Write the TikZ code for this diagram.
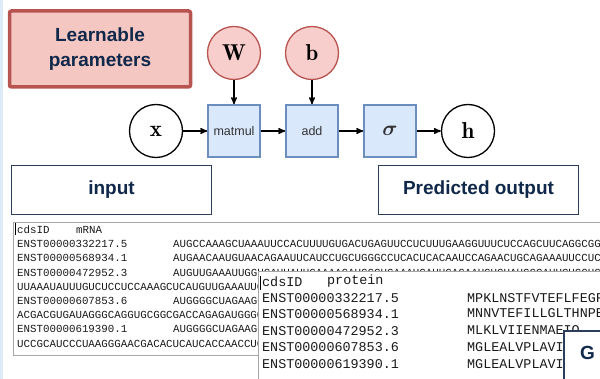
\RequirePackage{fix-cm}
\documentclass[tikz,border=0pt]{standalone}
\usepackage{amsmath}
\usepackage{fontspec}
\usepackage{tikz}
\usetikzlibrary{arrows}
\newfontfamily\lblfont{Liberation Sans}
\newfontfamily\codefont{Liberation Mono}
\definecolor{navy}{HTML}{10284A}
\definecolor{boxline}{HTML}{2B3F5C}
\definecolor{parfill}{HTML}{F8CECC}
\definecolor{parline}{HTML}{B85450}
\definecolor{learnfill}{HTML}{F4C7C3}
\definecolor{opfill}{HTML}{DAE8FC}
\definecolor{opline}{HTML}{6C8EBF}
\definecolor{tblline}{HTML}{A6A6A6}
\definecolor{stripe}{HTML}{DDEBF7}
\definecolor{codetext}{HTML}{1A1A1A}

\begin{document}
\begin{tikzpicture}[->,>=stealth',x=1pt,y=-1pt,node distance=78pt,
        every edge/.style={draw,line width=1.4},
        var/.style={circle,draw,line width=1.3,fill=white,minimum size=53,inner sep=0,
            font=\fontsize{23}{23}\selectfont},
        param/.style={var,draw=parline,fill=parfill},
        op/.style={rectangle,draw=opline,fill=opfill,line width=1.6,minimum size=52,inner sep=0,
            font=\lblfont\fontsize{12.5}{13}\selectfont,text=black!80},
        titlebox/.style={rectangle,draw=boxline,line width=1.6,fill=white,
            font=\lblfont\bfseries\fontsize{19}{25}\selectfont,text=navy},
        learnbox/.style={titlebox,draw=parline,fill=learnfill,line width=3.5,
            rounded corners=2,align=center},
        tbl/.style={rectangle,draw=tblline,line width=0.8,fill=white,anchor=north west},
        rna/.style={anchor=west,inner sep=0,text=codetext,
            font=\codefont\fontsize{10.8}{11}\selectfont},
        prt/.style={rna,font=\codefont\fontsize{13.4}{14}\selectfont}]

    \useasboundingbox (0,0) rectangle (600,379);
    \clip (0,0) rectangle (600,379);
    \fill[stripe] (0,0) rectangle (3,379);

    % computation graph
    \node[var] (x) at (156,131) {$\mathbf{x}$};
    \node[op] (mm) [right of=x] {matmul};
    \node[op,font=\fontsize{21}{21}\selectfont] (sig) at (390,131) {$\boldsymbol{\sigma}$};
    \node[op] (add) [right of=mm] {add};
    \node[var] (h) [right of=sig] {$\mathbf{h}$};
    \node[param] (W) [above of=mm] {$\mathbf{W}$};
    \node[param] (b) [above of=add] {$\mathbf{b}$};

    \path (x) edge (mm)
        (mm) edge (add)
        (add) edge (sig)
        (sig) edge (h)
        (W) edge (mm)
        (b) edge (add);

    \node[learnbox,minimum width=181,minimum height=76] (learn) at (100,49) {Learnable\\parameters};
    \node[titlebox,minimum width=200,minimum height=49] (in) at (111.5,190) {input};
    \node[titlebox,minimum width=200,minimum height=49] (out) at (478.5,190) {Predicted output};

    % mRNA table
    \node[tbl,minimum width=620,minimum height=133] (rna) at (13,222) {};
    \draw[-,line width=0.6] (15.5,223.5) -- (15.5,235);
    \node[rna] (r0) at (17,229.5) {cdsID};
    \node[rna] (r0s) at (76,229.5) {mRNA};
    \node[rna] (r1) at (17,244) {ENST00000332217.5};
    \node[rna] (r1s) at (173,244) {AUGCCAAAGCUAAAUUCCACUUUUGUGACUGAGUUCCUCUUUGAAGGUUUCUCCAGCUUCAGGCGGCAAG};
    \node[rna] (r2) at (17,258) {ENST00000568934.1};
    \node[rna] (r2s) at (173,258) {AUGAACAAUGUAACAGAAUUCAUCCUGCUGGGCCUCACUCACAAUCCAGAACUGCAGAAAUUCCUCCUGU};
    \node[rna] (r3) at (17,272.5) {ENST00000472952.3};
    \node[rna] (r3s) at (173,272.5) {AUGUUGAAAUUGGUGAUUAUUGAAAACAUGGCUGAAAUCAUUGAGAAUGUCUAUGGCAUUCUGCUGG};
    \node[rna] (r4) at (17,287) {UUAAAUAUUUGUCUCCUCCAAAGCUCAUGUUGAAAUUGGA};
    \node[rna] (r5) at (17,301) {ENST00000607853.6};
    \node[rna] (r5s) at (173,301) {AUGGGGCUAGAAGGA};
    \node[rna] (r6) at (17,315) {ACGACGUGAUAGGGCAGGUGCGGCGACCAGAGAUGGGCU};
    \node[rna] (r7) at (17,329) {ENST00000619390.1};
    \node[rna] (r7s) at (173,329) {AUGGGGCUAGAAGGA};
    \node[rna] (r8) at (17,343.5) {UCCGCAUCCCUAAGGGAACGACACUCAUCACCAACCUGU};

    % protein table
    \node[tbl,minimum width=360,minimum height=130] (prot) at (258,271) {};
    \draw[-,line width=0.6] (260,276) -- (260,290);
    \node[prt] (p0) at (262,281.5) {cdsID};
    \node[prt] (p0s) at (327,281.5) {protein};
    \node[prt] (p1) at (262,298) {ENST00000332217.5};
    \node[prt] (p1s) at (467,298) {MPKLNSTFVTEFLFEGFSDL};
    \node[prt] (p2) at (262,314.5) {ENST00000568934.1};
    \node[prt] (p2s) at (467,314.5) {MNNVTEFILLGLTHNPELQ};
    \node[prt] (p3) at (262,331) {ENST00000472952.3};
    \node[prt] (p3s) at (467,331) {MLKLVIIENMAEIQ};
    \node[prt] (p4) at (262,347.5) {ENST00000607853.6};
    \node[prt] (p4s) at (467,347.5) {MGLEALVPLAVIVA};
    \node[prt] (p5) at (262,364) {ENST00000619390.1};
    \node[prt] (p5s) at (467,364) {MGLEALVPLAVIVA};

    \node[titlebox,anchor=north west,minimum width=80,minimum height=80] (gbox) at (563,330) {};
    \node[titlebox,draw=none,fill=none,inner sep=0] (g) at (587.5,353) {G};

\end{tikzpicture}
\end{document}
